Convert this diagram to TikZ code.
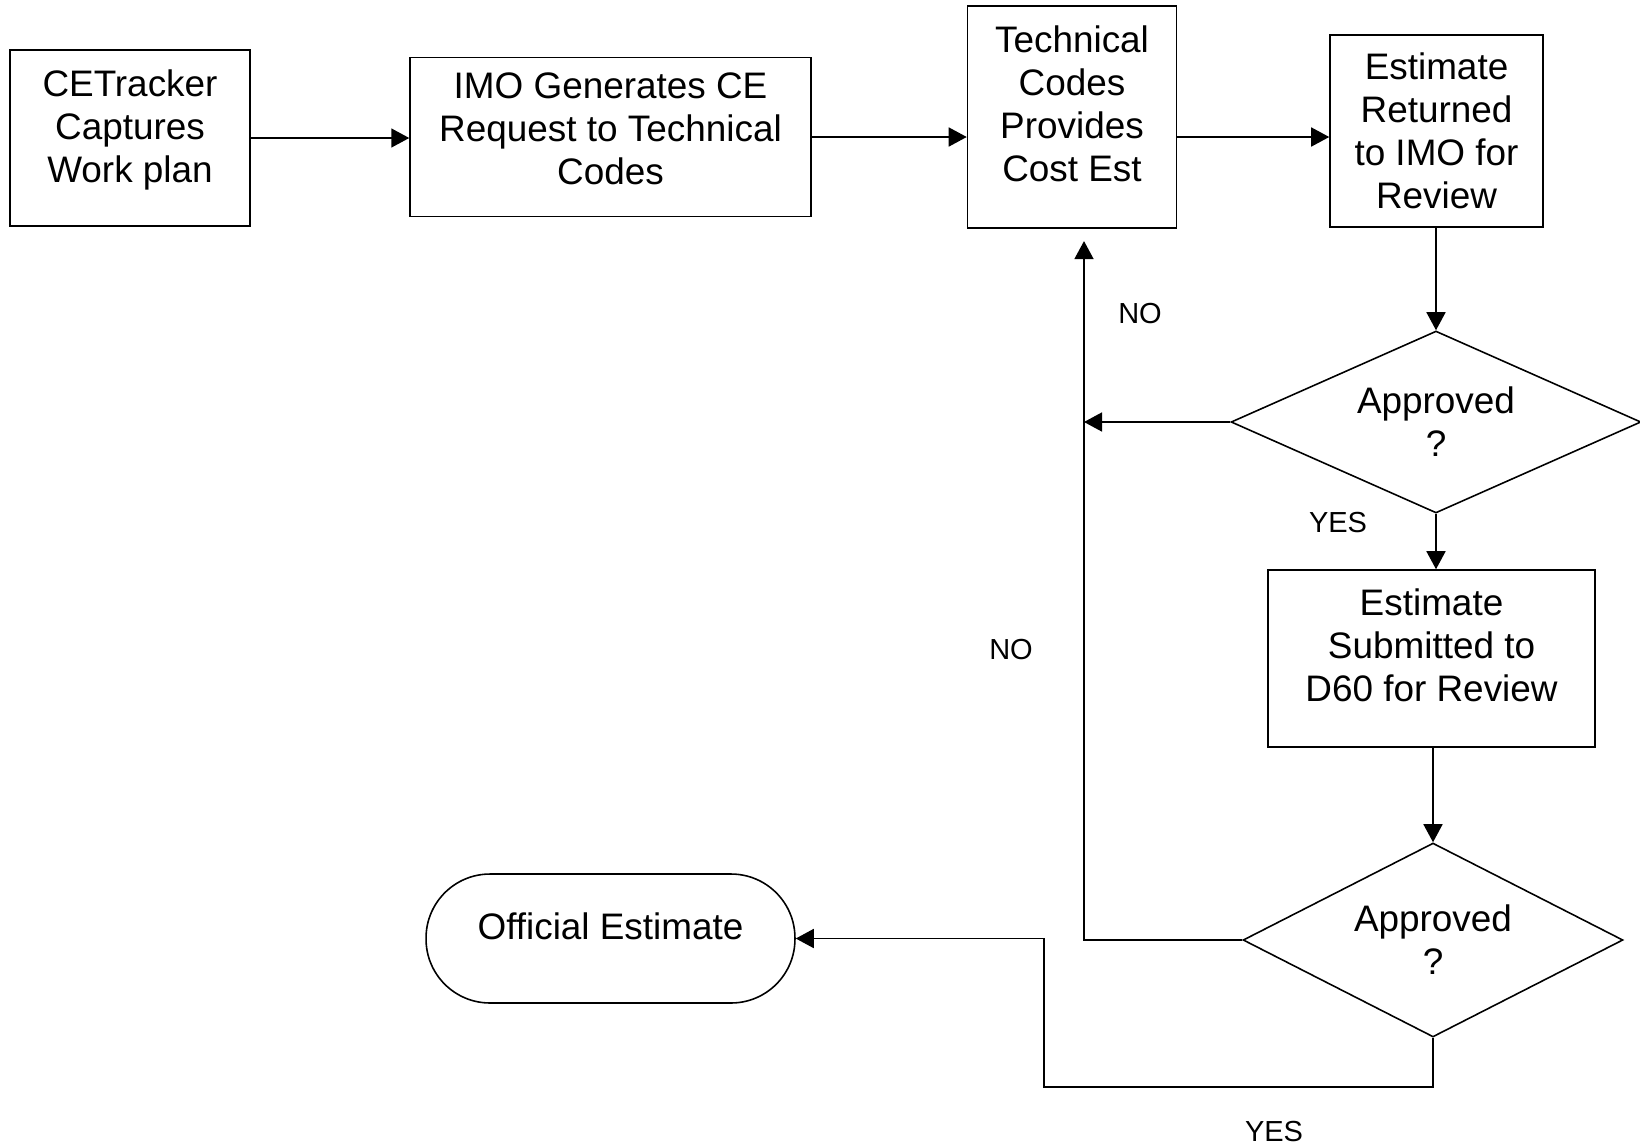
\documentclass[tikz,border=0pt]{standalone}
\usepackage{fontspec}
\setmainfont{Liberation Sans}
\usetikzlibrary{arrows.meta,shapes.geometric}
\tikzset{
	box/.style={draw,line width=0.9pt,align=center,inner sep=0pt,font=\fontsize{21}{24.5}\selectfont},
	decision/.style={draw,diamond,line width=0.9pt,align=center,inner sep=0pt,font=\fontsize{21}{24.5}\selectfont},
	answer/.style={font=\fontsize{16.5}{19}\selectfont},
	flow/.style={line width=0.9pt,-{Triangle[length=0.36cm,width=0.38cm]}},
	plain/.style={line width=0.9pt}
}
\begin{document}
\begin{tikzpicture}[x=0.02cm,y=-0.02cm]
		\useasboundingbox (0,0) rectangle (1640,1147);
		\node[box,minimum width=4.8cm,minimum height=3.52cm,text depth=0.48cm] (capture) at (130,138) {CETracker\\Captures\\Work plan};
		\node[box,minimum width=8.02cm,minimum height=3.18cm,text depth=0.32cm] (request) at (610.5,137) {IMO Generates CE\\Request to Technical\\Codes};
		\node[box,minimum width=4.18cm,minimum height=4.44cm,text depth=0.52cm] (provide) at (1072,117) {Technical\\Codes\\Provides\\Cost Est};
		\node[box,minimum width=4.26cm,minimum height=3.84cm] (returned) at (1436.5,131) {Estimate\\Returned\\to IMO for\\Review};
		\node[decision,shape aspect=2.25,minimum width=8.2cm,minimum height=3.64cm] (imocheck) at (1436,422) {Approved\\?};
		\node[box,minimum width=6.54cm,minimum height=3.54cm,text depth=0.52cm] (submitted) at (1431.5,658.5) {Estimate\\Submitted to\\D60 for Review};
		\node[decision,shape aspect=1.96,minimum width=7.6cm,minimum height=3.88cm] (dcheck) at (1433,940) {Approved\\?};
		\node[box,rounded corners=1.28cm,minimum width=7.38cm,minimum height=2.58cm,text depth=0.48cm] (official) at (610.5,938.5) {Official Estimate};
		\coordinate (back) at (1084,0);
		\coordinate (bottom) at (1044,1087);
		% main line
		\draw[flow] (capture.east) -- (capture.east -| request.west);
		\draw[flow] (request.east) -- (request.east -| provide.west);
		\draw[flow] (request.east -| provide.east) -- (request.east -| returned.west);
		\draw[flow] (imocheck.north |- returned.south) -- (imocheck.north);
		\draw[flow] (imocheck.south) -- (imocheck.south |- submitted.north);
		\draw[flow] (dcheck.north |- submitted.south) -- (dcheck.north);
		% answers
		\draw[flow] (imocheck.west) -- (imocheck.west -| back);
		\draw[flow] (dcheck.west) -- (dcheck.west -| back) -- ([yshift=-7pt]back |- provide.south);
		\draw[flow] (dcheck.south) -- (dcheck.south |- bottom) -- (bottom) -- (bottom |- official.east) -- (official.east);
		\node[answer] (no1) at (1140,314) {NO};
		\node[answer] (no2) at (1011,650) {NO};
		\node[answer] (yes1) at (1338,523) {YES};
		\node[answer] (yes2) at (1274,1132) {YES};
	\end{tikzpicture}
\end{document}
